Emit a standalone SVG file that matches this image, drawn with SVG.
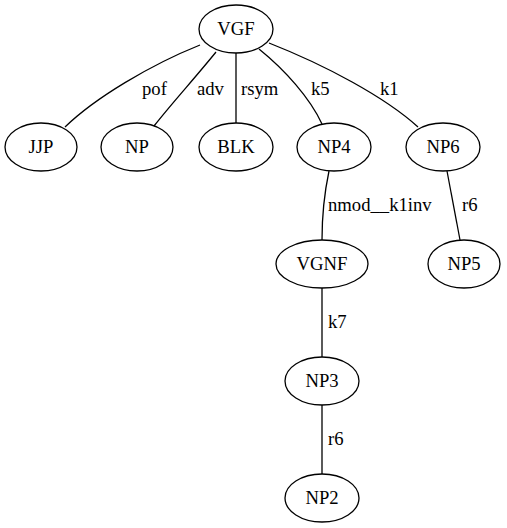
<svg xmlns="http://www.w3.org/2000/svg" width="507" height="528" viewBox="0 0 507 528">
  <style>
    text { font-family: 'Liberation Serif', serif; font-size: 18.67px; fill: #000; }
    .node ellipse { fill: none; stroke: #000; stroke-width: 1.3; }
    .node text { text-anchor: middle; }
    .edges path { fill: none; stroke: #000; stroke-width: 1.3; }
  </style>
  <rect width="507" height="528" fill="#fff"/>

  <g class="edges" id="edges">
    <path d="M200,45 C150,65 95,98 65,127"/>
    <text x="142" y="95">pof</text>
    <path d="M216,52 C195,78 172,103 154,126"/>
    <text x="197" y="95">adv</text>
    <path d="M236,53 L236,123"/>
    <text x="241" y="95">rsym</text>
    <path d="M259,49 C285,70 310,98 322,124"/>
    <text x="311" y="95">k5</text>
    <path d="M269,43 C325,65 385,97 418,127"/>
    <text x="380" y="95">k1</text>
    <path d="M329,171 C325,190 322,215 322,240"/>
    <text x="328" y="211">nmod__k1inv</text>
    <path d="M447,171 L460,240"/>
    <text x="462" y="211">r6</text>
    <path d="M322,288 L322,357"/>
    <text x="328" y="328">k7</text>
    <path d="M322,405 L322,474"/>
    <text x="328" y="445">r6</text>
  </g>

  <g class="node" id="VGF"><ellipse cx="236" cy="29" rx="37" ry="24"/><text x="236" y="35">VGF</text></g>
  <g class="node" id="JJP"><ellipse cx="41" cy="147" rx="36" ry="24"/><text x="41" y="153">JJP</text></g>
  <g class="node" id="NP"><ellipse cx="137" cy="147" rx="36" ry="24"/><text x="137" y="153">NP</text></g>
  <g class="node" id="BLK"><ellipse cx="236" cy="147" rx="37" ry="24"/><text x="236" y="153">BLK</text></g>
  <g class="node" id="NP4"><ellipse cx="334" cy="147" rx="37" ry="24"/><text x="334" y="153">NP4</text></g>
  <g class="node" id="NP6"><ellipse cx="443" cy="147" rx="37" ry="24"/><text x="443" y="153">NP6</text></g>
  <g class="node" id="VGNF"><ellipse cx="322" cy="264" rx="46" ry="24"/><text x="322" y="270">VGNF</text></g>
  <g class="node" id="NP5"><ellipse cx="464" cy="264" rx="36" ry="24"/><text x="464" y="270">NP5</text></g>
  <g class="node" id="NP3"><ellipse cx="322" cy="381" rx="37" ry="24"/><text x="322" y="387">NP3</text></g>
  <g class="node" id="NP2"><ellipse cx="322" cy="498" rx="37" ry="24"/><text x="322" y="504">NP2</text></g>
</svg>
